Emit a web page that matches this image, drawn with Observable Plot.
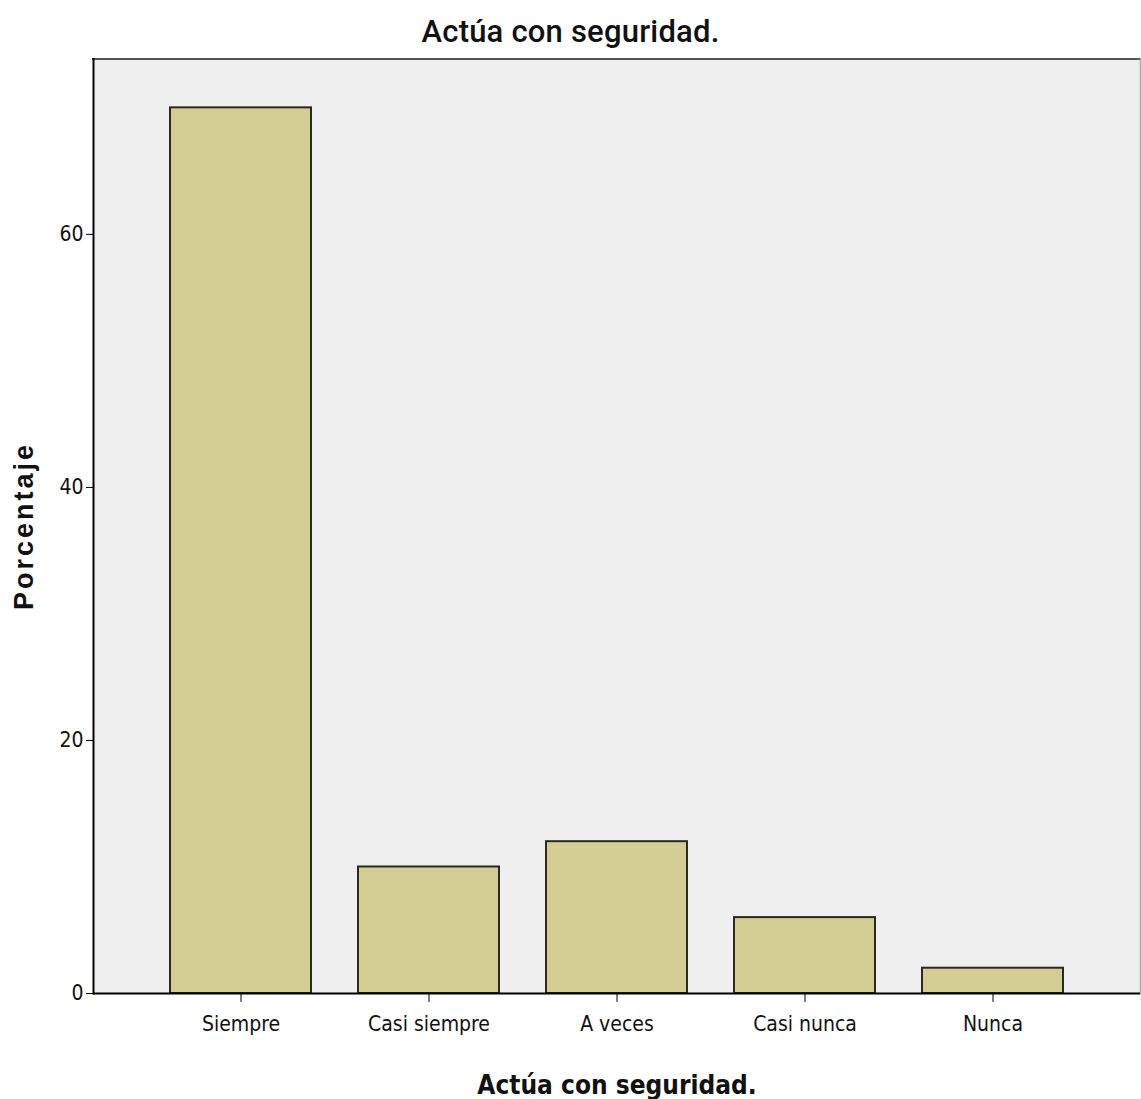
<!DOCTYPE html>
<html>
<head>
<meta charset="utf-8">
<script src="https://cdn.jsdelivr.net/npm/d3@7"></script>
<script src="https://cdn.jsdelivr.net/npm/@observablehq/plot@0.6"></script>
<style>
  html, body { margin: 0; padding: 0; background: #fff; }
  #title {
    width: 1141px; height: 58px; text-align: center; box-sizing: border-box;
    padding-top: 14px;
    font-family: Roboto, "Liberation Sans", sans-serif; font-weight: 500;
    font-size: 31px; line-height: 36px; color: #111; letter-spacing: 0.2px;
  }
  #chart svg { display: block; }
  #chart svg text { font-family: "DejaVu Sans Condensed", "Liberation Sans Narrow", sans-serif; fill: #111; }
  g[aria-label="x-axis label"] text {
    font-family: "DejaVu Sans Condensed", "DejaVu Sans", sans-serif !important;
    font-weight: bold; font-size: 26px;
  }
  g[aria-label="y-axis label"] text {
    font-family: "Liberation Sans", Arial, sans-serif !important;
    font-weight: bold; font-size: 27px; letter-spacing: 3px;
  }
</style>
</head>
<body>
<div id="title">Actúa con seguridad.</div>
<div id="chart"></div>
<script>
const categories = ["Siempre", "Casi siempre", "A veces", "Casi nunca", "Nunca"];
const percentages = [70, 10, 12, 6, 2];
const yTicks = [0, 20, 40, 60];
const xLabel = "Actúa con seguridad.";
const yLabel = "Porcentaje";

const data = categories.map((c, i) => ({category: c, value: percentages[i]}));

const chart = Plot.plot({
  width: 1141,
  height: 1041,
  marginTop: 0,
  marginLeft: 93,
  marginRight: 1,
  marginBottom: 106,
  style: {fontSize: "21px", background: "#fff"},
  x: {domain: categories, paddingInner: 0.249, paddingOuter: 0.397},
  y: {domain: [0, 73.9]},
  marks: [
    Plot.frame({fill: "#efefef", stroke: null}),
    Plot.frame({anchor: "top", stroke: "#555", strokeWidth: 3}),
    Plot.frame({anchor: "right", stroke: "#aaa", strokeWidth: 1.5}),
    Plot.barY(data, {x: "category", y: "value", fill: "#d3cd94", stroke: "#2a2a22", strokeWidth: 2}),
    Plot.frame({anchor: "left", stroke: "#000", strokeWidth: 2}),
    Plot.ruleY([0], {stroke: "#000", strokeWidth: 2}),
    Plot.axisY({ticks: yTicks, tickSize: 7, tickPadding: 3, tickFormat: d => d, label: yLabel, labelAnchor: "center", labelOffset: 80, labelArrow: "none", fontSize: 21}),
    Plot.axisX({tickSize: 9, tickPadding: 14, label: xLabel, labelAnchor: "center", labelOffset: 100, labelArrow: "none", fontSize: 21})
  ]
});
document.getElementById("chart").appendChild(chart);
</script>
</body>
</html>
